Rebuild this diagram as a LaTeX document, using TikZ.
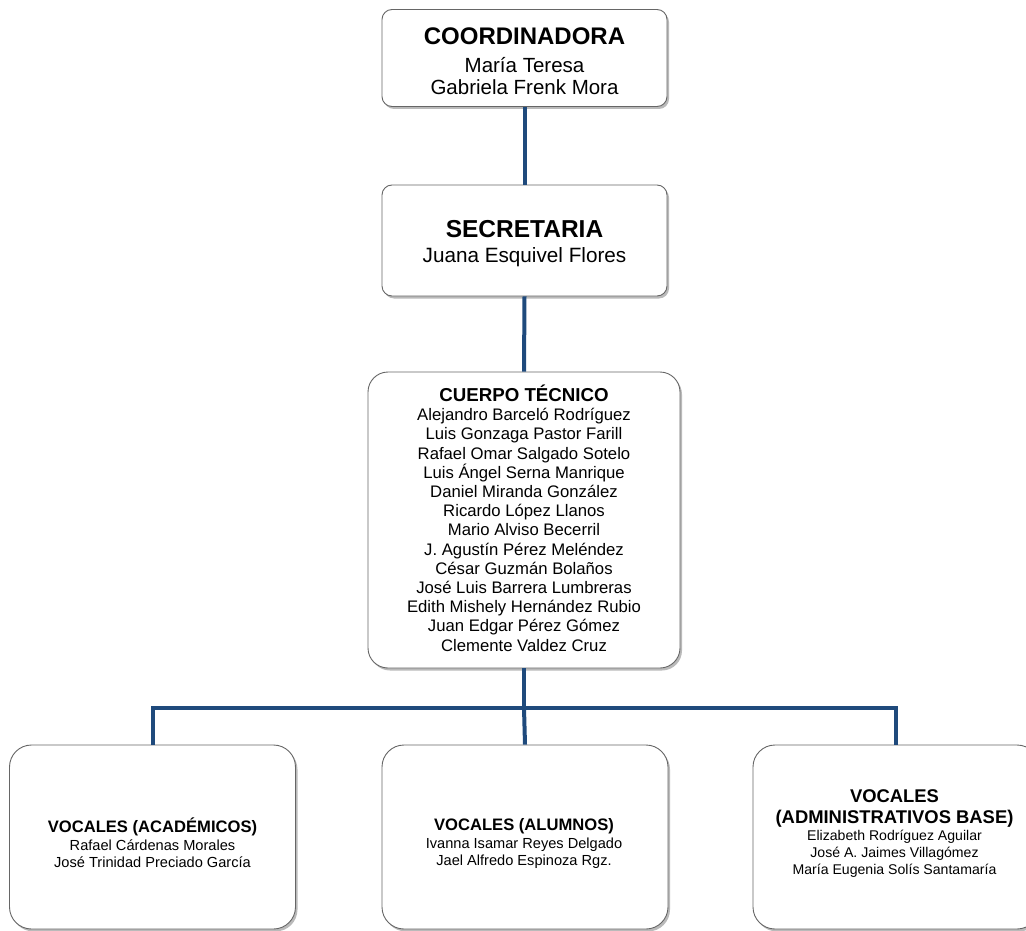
\documentclass[tikz,border=0pt]{standalone}
\usepackage{fontspec}
\setmainfont{Liberation Sans}
\usetikzlibrary{shadows}
\definecolor{conn}{HTML}{1F4A7C}
\begin{document}
\begin{tikzpicture}[x=1pt,y=-1pt,
  box/.style={draw=black!60, line width=0.9pt, fill=white, inner sep=0pt,
    drop shadow={shadow xshift=2pt, shadow yshift=-2.5pt, fill=black!45, opacity=0.6}},
  smallbox/.style={box, rounded corners=10pt},
  bigbox/.style={box, rounded corners=22pt},
  txt/.style={inner sep=0pt, align=center},
  link/.style={draw=conn, line width=4pt}
]
\useasboundingbox (0,0) rectangle (1026,931);
\clip (0,0) rectangle (1026,931);

% boxes
\node[smallbox, minimum width=285pt, minimum height=97pt] (coord) at (524.5,58) {};
\node[smallbox, minimum width=285pt, minimum height=111pt] (sec) at (524.5,240.5) {};
\node[box, rounded corners=20pt, minimum width=312pt, minimum height=296pt] (cuerpo) at (524,520) {};
\node[bigbox, minimum width=286pt, minimum height=184pt] (acad) at (152.5,837) {};
\node[bigbox, minimum width=286pt, minimum height=184pt] (alum) at (525,837) {};
\node[bigbox, minimum width=286pt, minimum height=184pt] (admin) at (896,837) {};

% connectors
\coordinate (bus) at (524,708);
\draw[link] (coord.south) -- (sec.north);
\draw[link] (sec.south) -- (cuerpo.north);
\draw[link] (cuerpo.south) -- (bus);
\draw[link] (bus) -- (alum.north);
\draw[link] (acad.north) |- (bus) -| (admin.north);

% texts
\node[txt, font=\fontsize{20.5}{22}\selectfont] (tcoord) at (524.5,61)
  {{\bfseries\fontsize{24}{22}\selectfont COORDINADORA}\\[5.7pt]María Teresa\\Gabriela Frenk Mora};
\node[txt, font=\fontsize{20.7}{22}\selectfont] (tsec) at (524.5,243.5)
  {{\bfseries\fontsize{24.5}{22}\selectfont SECRETARIA}\\[2.5pt]Juana Esquivel Flores};
\node[txt, font=\fontsize{16.7}{19.2}\selectfont] (tcuerpo) at (524,518)
  {{\bfseries\fontsize{18.7}{19.2}\selectfont CUERPO TÉCNICO}\\
   Alejandro Barceló Rodríguez\\
   Luis Gonzaga Pastor Farill\\
   Rafael Omar Salgado Sotelo\\
   Luis Ángel Serna Manrique\\
   Daniel Miranda González\\
   Ricardo López Llanos\\
   Mario Alviso Becerril\\
   J. Agustín Pérez Meléndez\\
   César Guzmán Bolaños\\
   José Luis Barrera Lumbreras\\
   Edith Mishely Hernández Rubio\\
   Juan Edgar Pérez Gómez\\
   Clemente Valdez Cruz};
\node[txt, font=\fontsize{14.6}{17}\selectfont] (tacad) at (152.5,843)
  {{\bfseries\fontsize{16.6}{17}\selectfont VOCALES (ACADÉMICOS)}\\[1pt]
   Rafael Cárdenas Morales\\José Trinidad Preciado García};
\node[txt, font=\fontsize{14.6}{17}\selectfont] (talum) at (524,843)
  {{\bfseries\fontsize{16.6}{17}\selectfont VOCALES (ALUMNOS)}\\[1pt]
   Ivanna Isamar Reyes Delgado\\Jael Alfredo Espinoza Rgz.};
\node[txt, font=\fontsize{14.1}{17}\selectfont] (tadmin) at (894.5,834)
  {{\bfseries\fontsize{18.4}{17}\selectfont VOCALES}\\[4pt]
   {\bfseries\fontsize{18.4}{17}\selectfont (ADMINISTRATIVOS BASE)}\\[0pt]
   Elizabeth Rodríguez Aguilar\\José A. Jaimes Villagómez\\María Eugenia Solís Santamaría};
\end{tikzpicture}
\end{document}
